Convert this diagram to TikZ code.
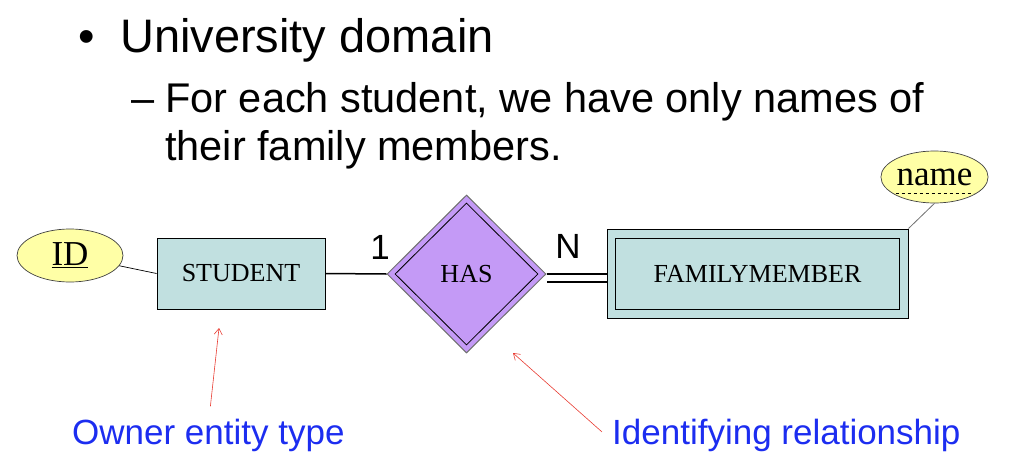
\documentclass[tikz,border=0pt]{standalone}
\usepackage{fontspec}
\setmainfont{Liberation Serif}
\newfontfamily\arial{Liberation Sans}
\usetikzlibrary{arrows.meta,shapes.geometric}

\definecolor{entfill}{RGB}{193,224,224}
\definecolor{relfill}{RGB}{196,154,246}
\definecolor{relgray}{RGB}{112,112,112}
\definecolor{attrfill}{RGB}{255,255,166}
\definecolor{noteblue}{RGB}{28,45,240}
\definecolor{pointred}{RGB}{232,60,50}

\tikzset{
  head/.style={inner sep=0pt, font=\arial\fontsize{47}{50}\selectfont},
  sub/.style={inner sep=0pt, font=\arial\fontsize{41.5}{46}\selectfont},
  note/.style={inner sep=0pt, text=noteblue, font=\arial\fontsize{35}{40}\selectfont},
  card/.style={inner sep=0pt, font=\arial\fontsize{35}{40}\selectfont},
  entity/.style={draw, fill=entfill, line width=1pt, inner sep=0pt, font=\fontsize{26}{30}\selectfont},
  relation/.style={diamond, draw=relgray, fill=relfill, line width=1pt, inner sep=0pt, font=\fontsize{26}{30}\selectfont},
  attr/.style={ellipse, draw=black!75, fill=attrfill, line width=0.7pt, inner sep=0pt, font=\fontsize{35}{40}\selectfont},
  link/.style={line width=1.5pt},
  pointer/.style={pointred, line width=0.6pt, -{Straight Barb[length=6pt,width=8pt]}}
}

\begin{document}
\begin{tikzpicture}[x=1pt,y=-1pt]
      \useasboundingbox (0,0) rectangle (1036,474);
      % bullet text
      \node[head, anchor=base west] (bul) at (78,52) {•};
      \node[head, anchor=base west] (title) at (120,52) {University domain};
      \node[sub, anchor=base west] (dash) at (131,112) {–};
      \node[sub, anchor=base west] (line1) at (165,112) {For each student, we have only names of};
      \node[sub, anchor=base west] (line2) at (165,160) {their family members.};
      % ER diagram
      \node[entity, minimum width=168pt, minimum height=71pt] (STU) at (241,273.5) {STUDENT};
      \node[relation, minimum width=159pt, minimum height=158pt] (HAS) at (466.5,274) {HAS};
      \node[diamond, draw, line width=0.8pt, inner sep=0pt, minimum width=143pt, minimum height=142pt] (HASin) at (HAS) {};
      \node[entity, minimum width=301pt, minimum height=89pt] (FAM) at (757.5,273.5) {};
      \node[entity, minimum width=284pt, minimum height=71pt] (FAMin) at (FAM) {FAMILYMEMBER};
      \node[attr, minimum width=106pt, minimum height=53pt] (ID) at (70,255.5) {\underline{ID}};
      \node[attr, minimum width=107pt, minimum height=52pt] (name) at (934.5,177) {name};
      \draw[dashed, line width=0.6pt] ([xshift=-39pt,yshift=-16pt]name.center) -- ([xshift=39pt,yshift=-16pt]name.center);
      \node[card, anchor=base] (one) at (380,259) {1};
      \node[card, anchor=base] (many) at (568,258) {N};
      \draw[line width=0.7pt] (ID) -- (STU.west);
      \draw[link] (STU.east) -- (HAS.west);
      \draw[link, double, double distance=6.5pt] ([yshift=-4pt]HAS.east) -- ([yshift=-4pt]HAS.east -| FAM.west);
      \draw[relgray, line width=0.8pt] (FAM.north east) -- (name.south);
      % notes
      \node[note, anchor=base west] (owner) at (72,444) {Owner entity type};
      \node[note, anchor=base west] (ident) at (612,444) {Identifying relationship};
      \coordinate (ownertip) at (219,328);
      \coordinate (identtip) at (513,353);
      \draw[pointer] ([xshift=2pt,yshift=12pt]owner.north) -- (ownertip);
      \draw[pointer] ([xshift=-10pt,yshift=3pt]ident.west) -- (identtip);
\end{tikzpicture}
\end{document}
